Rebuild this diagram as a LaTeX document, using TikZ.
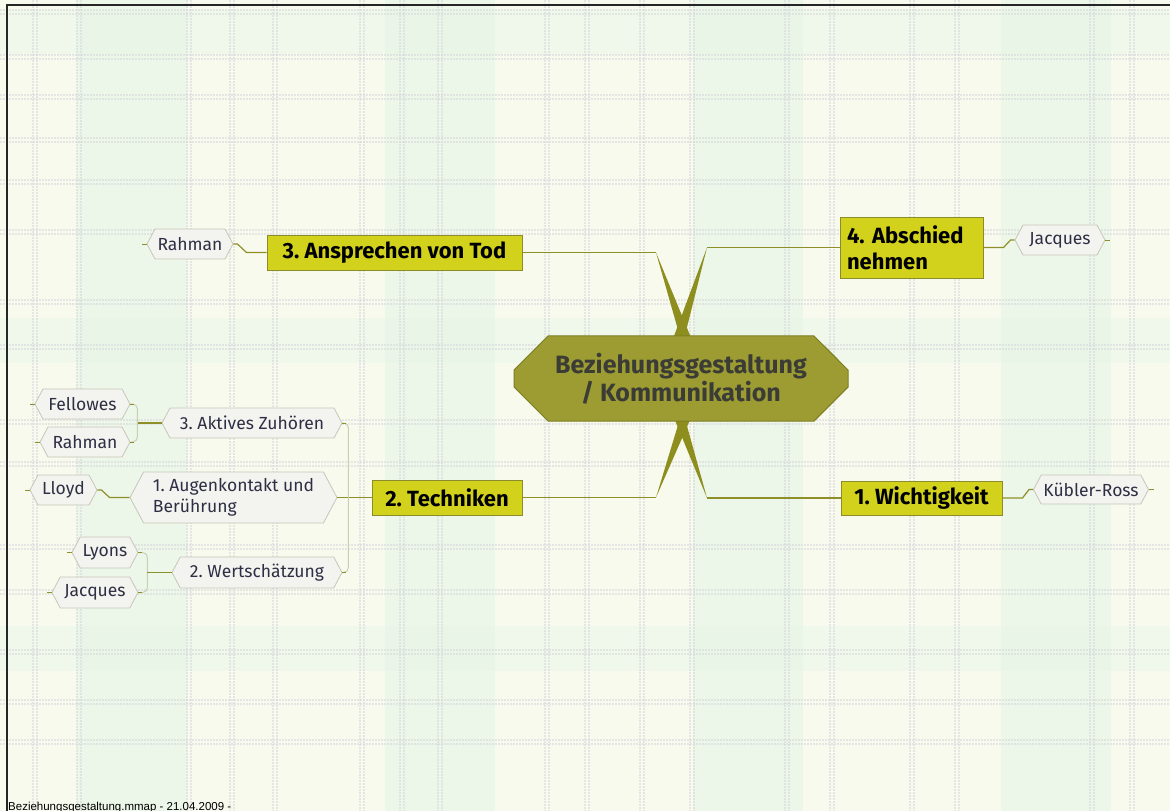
\documentclass[tikz,border=0pt]{standalone}
\usepackage{fontspec}
\setmainfont{Fira Sans}
\newfontfamily\footfont{Liberation Sans}
\usetikzlibrary{shapes.symbols,shapes.misc}
\frenchspacing
\definecolor{bgcream}{HTML}{F8FAEE}
\definecolor{mint}{HTML}{E6F6E6}
\definecolor{plaid}{HTML}{D6D6DA}
\definecolor{topicfill}{HTML}{D2D21C}
\definecolor{topicdraw}{HTML}{8C8C2A}
\definecolor{centerfill}{HTML}{9C9C33}
\definecolor{centerdraw}{HTML}{7D7D22}
\definecolor{centertext}{HTML}{3C3C36}
\definecolor{olive}{HTML}{8F8F2A}
\definecolor{spikecol}{HTML}{8E8E1E}
\definecolor{leaffill}{HTML}{F3F3EF}
\definecolor{leafdraw}{HTML}{C6C6BA}
\definecolor{leaftext}{HTML}{2E2E44}
\definecolor{palebracket}{HTML}{C8D0B4}
\tikzset{
  centerbox/.style={chamfered rectangle, chamfered rectangle xsep=17pt, chamfered rectangle ysep=17pt,
    fill=centerfill, draw=centerdraw, line width=1pt, text=centertext, align=center,
    font=\fontsize{25}{28}\selectfont\bfseries, inner sep=0pt},
  topicbox/.style={rectangle, fill=topicfill, draw=topicdraw, line width=1pt, text=black,
    font=\fontsize{22}{26}\selectfont\bfseries, inner sep=0pt},
  leafbox/.style={signal, signal to=east and west, signal pointer angle=124, fill=leaffill,
    draw=leafdraw, line width=0.8pt, text=leaftext, font=\fontsize{17.5}{21}\selectfont, inner sep=0pt},
  conn/.style={draw=olive, line width=1.2pt},
  tick/.style={draw=olive, line width=1pt},
  pale/.style={draw=palebracket, line width=1pt, rounded corners=5pt},
  spike/.style={fill=spikecol},
  plaidline/.style={draw=plaid, line width=1.2pt, dash pattern=on 1.5pt off 1.5pt, opacity=0.55}
}
\begin{document}
\begin{tikzpicture}[x=1pt,y=-1pt]
\useasboundingbox (0,0) rectangle (1170,811);
% background
\fill[bgcream] (0,0) rectangle (1170,811);
\foreach \x in {77,385,693,1001}
  \fill[mint,opacity=0.6] (\x,0) rectangle ++(110,811);
\foreach \y in {10,318,626}
  \fill[mint,opacity=0.45] (0,\y) rectangle ++(1170,45);
\foreach \x in {33,77,187,230,273,360,400,438,545,585,640,690,785,830,910,955,1090,1130} {
  \draw[plaidline] (\x,0) -- (\x,811);
  \draw[plaidline] (\x+4,0) -- (\x+4,811);
}
\foreach \y in {10,55,95,138,180,230,300,345,420,462,545,590,650,700,740} {
  \draw[plaidline] (0,\y) -- (1170,\y);
  \draw[plaidline] (0,\y+4) -- (1170,\y+4);
}
% frame
\draw[line width=1.5pt, black!85] (7,811) -- (7,5) -- (1170,5);
% spikes
\coordinate (ul) at (656,252.5);
\coordinate (ur) at (707,247.5);
\coordinate (ll) at (656,497.5);
\coordinate (lr) at (707,498);
\fill[spike] (ul) -- (692,379) -- (708,379) -- cycle;
\fill[spike] (ur) -- (658,379) -- (674,379) -- cycle;
\fill[spike] (ll) -- (692,379) -- (708,379) -- cycle;
\fill[spike] (lr) -- (658,379) -- (674,379) -- cycle;
% central node
\node[centerbox, minimum width=334pt, minimum height=85pt] (c) at (681,378.5) {Beziehungsgestaltung\\/ Kommunikation};
% main topics
\node[topicbox, minimum width=255pt, minimum height=35pt] (t3) at (394.5,252.5) {3. Ansprechen von Tod};
\node[topicbox, minimum width=143pt, minimum height=61pt, align=left, text width=129pt] (t4) at (911.5,247.5) {4. Abschied\\nehmen};
\node[topicbox, minimum width=161pt, minimum height=34pt] (t1) at (921.5,498) {1. Wichtigkeit};
\node[topicbox, minimum width=150pt, minimum height=35pt] (t2) at (447,497.5) {2. Techniken};
\draw[conn] (ul) -- (t3.east);
\draw[conn] (ur) -- (t4.west);
\draw[conn] (ll) -- (t2.east);
\draw[conn] (lr) -- (t1.west);
% leaves of main topics
\node[leafbox, minimum width=86pt, minimum height=30pt] (l3r) at (190,244) {Rahman};
\node[leafbox, minimum width=90pt, minimum height=30pt] (l4j) at (1060,240) {Jacques};
\node[leafbox, minimum width=115pt, minimum height=29pt] (l1k) at (1091,489.5) {Kübler-Ross};
\draw[conn] (t3.west) -- ++(-20,0) -- ([xshift=4pt]l3r.east) -- (l3r.east);
\draw[conn] (t4.east) -- ++(20,0) -- ([xshift=-4pt]l4j.west) -- (l4j.west);
\draw[conn] (t1.east) -- ++(20,0) -- ([xshift=-4pt]l1k.west) -- (l1k.west);
\draw[tick] (l3r.west) -- ++(-5,0);
\draw[tick] (l4j.east) -- ++(5,0);
\draw[tick] (l1k.east) -- ++(5,0);
% Techniken subtree
\node[leafbox, minimum width=180pt, minimum height=30pt] (s3) at (252,423) {3. Aktives Zuhören};
\node[leafbox, minimum width=207pt, minimum height=51pt, align=left] (s1) at (233.5,497.5) {1. Augenkontakt und\\Berührung};
\node[leafbox, minimum width=170pt, minimum height=31pt] (s2) at (257,572.5) {2. Wertschätzung};
\draw[conn] (t2.west) -- (s1.east);
\draw[pale] (s3.east) -- ++(6,0) |- (s2.east);
\draw[tick] (s3.east) -- ++(4,0);
\draw[tick] (s2.east) -- ++(4,0);
\node[leafbox, minimum width=95pt, minimum height=30pt] (fel) at (82.5,404) {Fellowes};
\node[leafbox, minimum width=90pt, minimum height=30pt] (rah) at (85,442) {Rahman};
\node[leafbox, minimum width=67pt, minimum height=30pt] (llo) at (63.5,490) {Lloyd};
\node[leafbox, minimum width=66pt, minimum height=31pt] (lyo) at (105,552.5) {Lyons};
\node[leafbox, minimum width=86pt, minimum height=31pt] (jac) at (95,592.5) {Jacques};
% brackets
\draw[pale] (fel.east) -- ++(7,0) |- (rah.east);
\draw[tick] (fel.east) -- ++(4,0);
\draw[tick] (rah.east) -- ++(4,0);
\draw[conn] (s3.west) -- ++(-24,0);
\draw[pale] (lyo.east) -- ++(9,0) |- (jac.east);
\draw[tick] (lyo.east) -- ++(4,0);
\draw[tick] (jac.east) -- ++(4,0);
\draw[conn] (s2.west) -- ++(-25,0);
\draw[conn] (s1.west) -- ++(-20,0) -- ([xshift=4pt]llo.east) -- (llo.east);
\foreach \n in {fel,rah,llo,lyo,jac}
  \draw[tick] (\n.west) -- ++(-5,0);
% footer
\node[anchor=north west, inner sep=0pt, font=\footfont\fontsize{11.5}{13}\selectfont] (foot) at (8,801.5) {Beziehungsgestaltung.mmap - 21.04.2009 -};
\end{tikzpicture}
\end{document}
